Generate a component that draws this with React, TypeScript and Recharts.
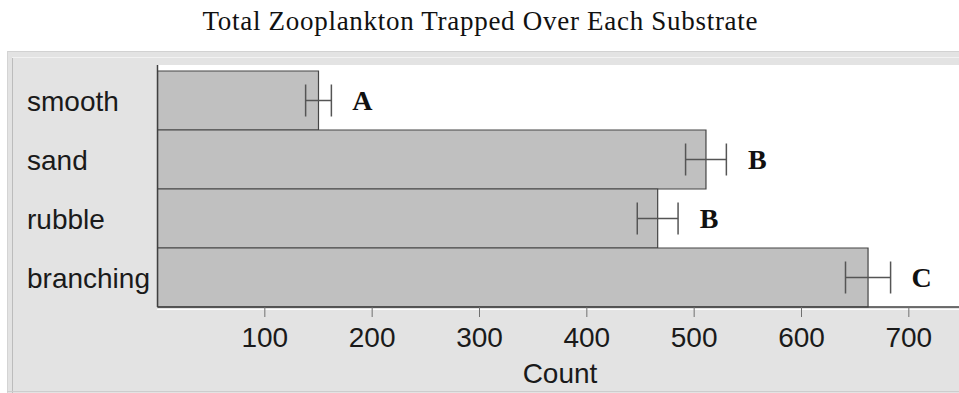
import React from 'react';
import { ComposedChart, Bar, XAxis, YAxis, ErrorBar, CartesianGrid, LabelList } from 'recharts';

const substrates = ['smooth', 'sand', 'rubble', 'branching'];
const counts = [150, 511, 466, 662];
const errors = [12, 19, 19, 21];
const letters = ['A', 'B', 'B', 'C'];
const countTicks = [100, 200, 300, 400, 500, 600, 700];
const countDomain = [0, 750];

const data = substrates.map((s, i) => ({ substrate: s, count: counts[i], err: errors[i], letter: letters[i] }));

const SANS = '"Liberation Sans", Arial, sans-serif';
const SERIF = '"Liberation Serif", "Times New Roman", serif';

const YTick = (p: any) => (
  <text x={27} y={p.y + 10} textAnchor="start" fontFamily={SANS} fontSize={28} fill="#1a1a1a">
    {p.payload.value}
  </text>
);

const XTick = (p: any) => (
  <text x={p.x} y={347} textAnchor="middle" fontFamily={SANS} fontSize={28} fill="#1a1a1a">
    {p.payload.value}
  </text>
);

const LetterLabel = (p: any) => {
  const x = Number(p.x), y = Number(p.y), w = Number(p.width), h = Number(p.height);
  const idx = counts.indexOf(Number(p.value));
  if (idx < 0) return null;
  const pxPerUnit = w / counts[idx];
  const cx = x + w + errors[idx] * pxPerUnit + 31;
  return (
    <text x={cx} y={y + h / 2 + 9} textAnchor="middle" fontFamily={SERIF} fontWeight="bold" fontSize={28} fill="#111">
      {letters[idx]}
    </text>
  );
};

const CountLabel = (p: any) => {
  const vb = p.viewBox || {};
  return (
    <text x={vb.x + vb.width / 2} y={383} textAnchor="middle" fontFamily={SANS} fontSize={28} fill="#1a1a1a">
      Count
    </text>
  );
};

export default function App() {
  return (
    <div style={{ position: 'absolute', left: 0, top: 0, width: 959, height: 393, overflow: 'hidden', background: '#fff' }}>
      <svg width={959} height={393} style={{ position: 'absolute', left: 0, top: 0 }}>
        <text x={480} y={30} textAnchor="middle" fontFamily={SERIF} fontSize={27} fill="#111" textLength={555} lengthAdjust="spacing">
          Total Zooplankton Trapped Over Each Substrate
        </text>
        <rect x={7} y={51} width={960} height={342} fill="#e3e3e3" />
        <line x1={7} y1={51.5} x2={959} y2={51.5} stroke="#d2d2d2" />
        <line x1={7.5} y1={51} x2={7.5} y2={393} stroke="#d4d4d4" />
        <line x1={12.5} y1={57} x2={12.5} y2={393} stroke="#bcbcbc" />
        <line x1={12} y1={57.5} x2={959} y2={57.5} stroke="#f2f2f2" />
        <line x1={7} y1={391.5} x2={959} y2={391.5} stroke="#cdcdcd" />
        <line x1={157} y1={309.5} x2={959} y2={309.5} stroke="#ffffff" />
      </svg>
      <div style={{ position: 'absolute', left: 0, top: 0 }}>
        <ComposedChart
          width={975}
          height={393}
          data={data}
          layout="vertical"
          margin={{ top: 65, right: 12.5, bottom: 36, left: 0 }}
          barCategoryGap={0}
          barGap={0}
        >
          <CartesianGrid fill="#ffffff" horizontal={false} vertical={false} />
          <XAxis
            type="number"
            dataKey="count"
            domain={countDomain}
            ticks={countTicks}
            allowDataOverflow
            height={50}
            tickSize={10}
            tickLine={{ stroke: '#707070' }}
            axisLine={{ stroke: '#404040', strokeWidth: 1.5 }}
            tick={<XTick />}
            label={<CountLabel />}
          />
          <XAxis
            xAxisId="top"
            orientation="top"
            type="number"
            domain={countDomain}
            height={0}
            tick={false}
            tickLine={false}
            axisLine={{ stroke: '#404040', strokeWidth: 1.5 }}
          />
          <YAxis
            type="category"
            dataKey="substrate"
            width={157.5}
            padding={{ top: 6, bottom: 0 }}
            tickLine={false}
            axisLine={{ stroke: '#404040', strokeWidth: 1.5 }}
            tick={<YTick />}
          />
          <Bar dataKey="count" fill="#c0c0c0" stroke="#454545" strokeWidth={1.2} isAnimationActive={false}>
            <ErrorBar dataKey="err" direction="x" width={16} stroke="#555555" strokeWidth={1.5} />
            <LabelList dataKey="count" content={<LetterLabel />} />
          </Bar>
        </ComposedChart>
      </div>
    </div>
  );
}
